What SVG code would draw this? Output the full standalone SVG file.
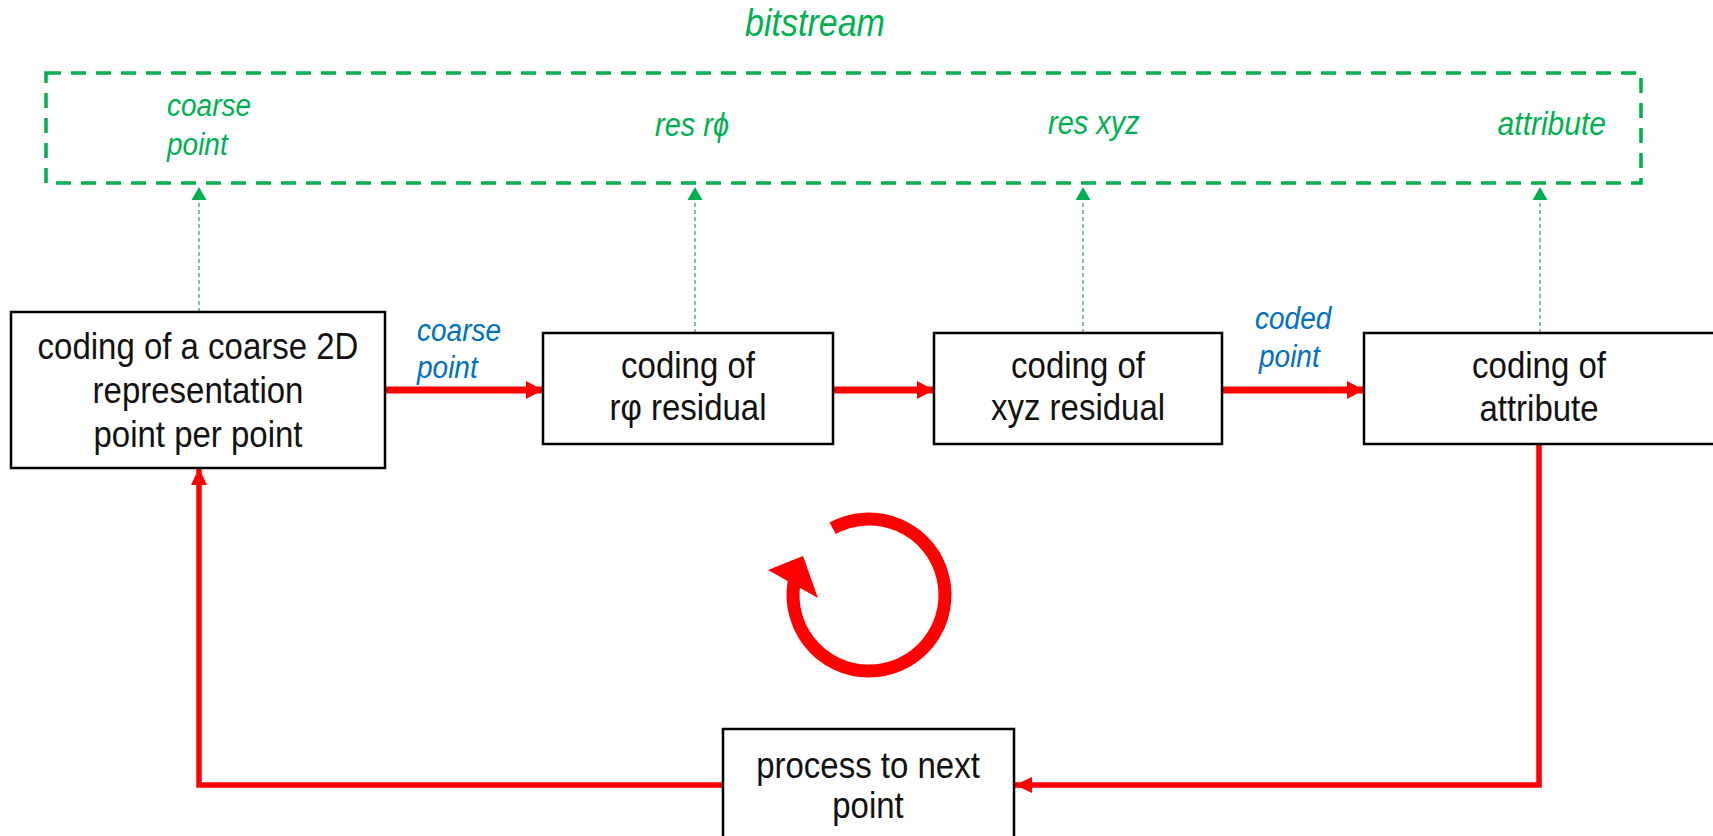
<svg xmlns="http://www.w3.org/2000/svg" width="1713" height="836" viewBox="0 0 1713 836">
  <style>
    .node rect { fill: #ffffff; stroke: #000000; stroke-width: 2.5; }
    .node text { font-family: "Liberation Sans", Arial, sans-serif; font-size: 33px; fill: #111111; text-anchor: middle; }
    .green { font-family: "Liberation Sans", Arial, sans-serif; font-style: italic; fill: #00B050; }
    .blue { font-family: "Liberation Sans", Arial, sans-serif; font-style: italic; font-size: 28px; fill: #0070C0; }
    .flow { fill: none; stroke: #FF0000; stroke-width: 7; marker-end: url(#redHead); }
    .loop { fill: none; stroke: #FF0000; stroke-width: 5.5; marker-end: url(#redHeadSmall); }
    .tap { fill: none; stroke: #4a9e6e; stroke-width: 1.3; stroke-dasharray: 4 3; marker-end: url(#greenHead); }
  </style>
  <defs>
    <marker id="redHead" viewBox="0 0 17 18" refX="17" refY="9" markerWidth="17" markerHeight="18" markerUnits="userSpaceOnUse" orient="auto">
      <path d="M0,0 L17,9 L0,18 Z" fill="#FF0000"/>
    </marker>
    <marker id="redHeadSmall" viewBox="0 0 17 16" refX="17" refY="8" markerWidth="17" markerHeight="16" markerUnits="userSpaceOnUse" orient="auto">
      <path d="M0,0 L17,8 L0,16 Z" fill="#FF0000"/>
    </marker>
    <marker id="greenHead" viewBox="0 0 13 15" refX="13" refY="7.5" markerWidth="13" markerHeight="15" markerUnits="userSpaceOnUse" orient="auto">
      <path d="M0,0 L13,7.5 L0,15 Z" fill="#00B050"/>
    </marker>
  </defs>

  <!-- bitstream container -->
  <g id="bitstream">
    <text class="green" font-size="34" text-anchor="middle" transform="translate(815,36) scale(1,1.12)">bitstream</text>
    <rect x="46" y="73" width="1595" height="110" fill="none" stroke="#00B050" stroke-width="3.5" stroke-dasharray="15 10"/>
    <text class="green" font-size="28" transform="translate(167,116) scale(1,1.1)">coarse</text>
    <text class="green" font-size="28" transform="translate(167,155) scale(1,1.1)">point</text>
    <text class="green" font-size="29" transform="translate(655,136) scale(1,1.12)">res r&#x3D5;</text>
    <text class="green" font-size="29" transform="translate(1048,134) scale(1,1.12)">res xyz</text>
    <text class="green" font-size="30" text-anchor="end" transform="translate(1606,135) scale(1,1.12)">attribute</text>
  </g>

  <!-- connectors -->
  <g id="connectors">
    <path class="tap" d="M199,312 V187"/>
    <path class="tap" d="M695,333 V187"/>
    <path class="tap" d="M1083,333 V187"/>
    <path class="tap" d="M1540,333 V187"/>

    <path class="flow" d="M385,390 H543"/>
    <path class="flow" d="M833,390 H934"/>
    <path class="flow" d="M1222,390 H1364"/>

    <path class="loop" d="M1539,445 V785 H1015"/>
    <path class="loop" d="M723,785 H199 V468"/>

    <text class="blue" transform="translate(417,341) scale(1,1.1)">coarse</text>
    <text class="blue" transform="translate(417,378) scale(1,1.1)">point</text>
    <text class="blue" transform="translate(1255,329) scale(1,1.1)">coded</text>
    <text class="blue" transform="translate(1259,367) scale(1,1.1)">point</text>
  </g>

  <!-- loop symbol -->
  <g id="cycle">
    <path d="M832.6,528.3 A76,76 0 1 1 795.6,575.3" fill="none" stroke="#FF0000" stroke-width="13"/>
    <polygon points="768,570 803,556 818,598" fill="#FF0000"/>
  </g>

  <g id="node-coarse" class="node">
    <rect x="11" y="312" width="374" height="156"/>
    <text transform="translate(198,359) scale(1,1.12)">coding of a coarse 2D</text>
    <text transform="translate(198,403) scale(1,1.12)">representation</text>
    <text transform="translate(198,447) scale(1,1.12)">point per point</text>
  </g>

  <g id="node-rphi" class="node">
    <rect x="543" y="333" width="290" height="111"/>
    <text transform="translate(688,378) scale(1,1.12)">coding of</text>
    <text transform="translate(688,420) scale(1,1.12)">r&#x3C6; residual</text>
  </g>

  <g id="node-xyz" class="node">
    <rect x="934" y="333" width="288" height="111"/>
    <text transform="translate(1078,378) scale(1,1.12)">coding of</text>
    <text transform="translate(1078,420) scale(1,1.12)">xyz residual</text>
  </g>

  <g id="node-attribute" class="node">
    <rect x="1364" y="333" width="352" height="111"/>
    <text transform="translate(1539,378) scale(1,1.12)">coding of</text>
    <text transform="translate(1539,421) scale(1,1.12)">attribute</text>
  </g>

  <g id="node-next" class="node">
    <rect x="723" y="729" width="291" height="130"/>
    <text transform="translate(868,778) scale(1,1.12)">process to next</text>
    <text transform="translate(868,818) scale(1,1.12)">point</text>
  </g>
</svg>
